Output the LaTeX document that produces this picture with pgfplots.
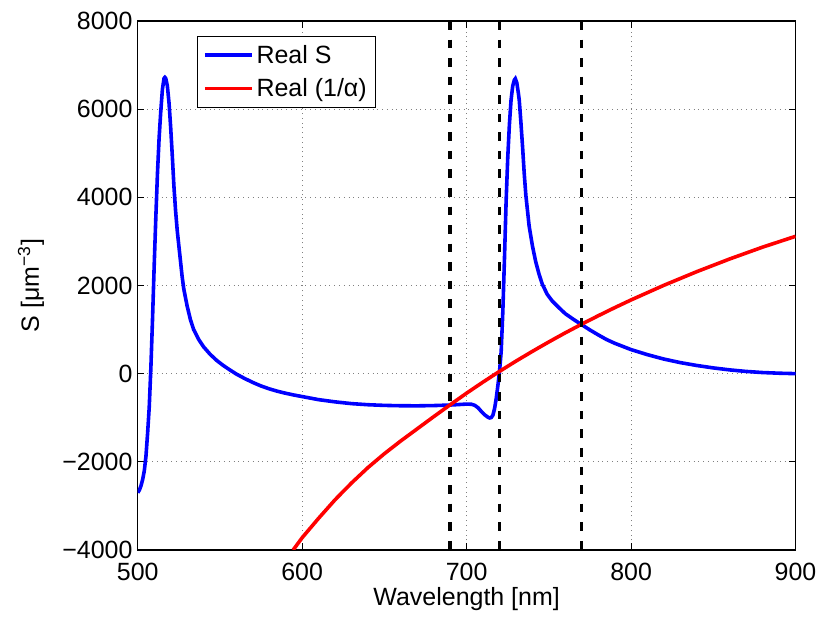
\documentclass[border=0pt]{standalone}
\usepackage{fontspec}
\setmainfont{Liberation Sans}
\usepackage{pgfplots}
\pgfplotsset{compat=1.18}

\pgfplotstableread{
x y
500 -2700
501 -2640
502 -2540
503 -2400
504 -2200
505 -1870
506 -1350
507 -750
508 150
509 1250
510 2450
511 3550
512 4550
513 5350
514 5950
515 6450
516 6700
516.5 6720
517 6700
518 6530
519 6150
520 5600
521 4950
522 4250
523 3700
524 3250
525 2900
526 2550
527 2200
528 1920
530 1540
532 1230
534 1000
537 780
540 610
544 440
548 300
552 185
556 85
560 -10
565 -110
570 -200
575 -280
580 -345
585 -400
590 -445
595 -485
600 -520
610 -590
620 -640
630 -680
640 -705
650 -720
660 -728
670 -730
680 -724
690 -712
697 -697
700 -690
703 -695
705 -720
707 -775
709 -860
711 -935
713 -990
714 -1005
715 -995
716 -940
717 -790
718 -560
719 -270
720 50
721 500
722 1400
723 2600
724 3900
725 4900
726 5650
727 6200
728 6520
729 6660
729.6 6690
730.5 6600
731.5 6350
732 6200
733 5700
734 5150
735 4550
736 4050
737 3700
738 3350
740 2900
742 2540
744 2260
746 2030
749 1800
752 1650
756 1500
760 1360
765 1230
770 1110
775 990
780 880
785 775
790 690
800 545
810 430
820 330
830 250
840 185
850 130
860 85
870 50
880 25
890 10
900 0
}\realS

\pgfplotstableread{
x y
594.5 -4000
600 -3720
610 -3280
620 -2860
630 -2480
640 -2130
650 -1815
660 -1525
670 -1250
680 -975
690 -706
700 -442
710 -190
720 52
730 284
740 506
750 720
760 926
770 1123
780 1313
790 1496
800 1672
820 2005
840 2314
860 2602
880 2870
900 3115
}\realInvAlpha

\begin{document}
\begin{tikzpicture}
\begin{axis}[
    scale only axis,
    width=329.5pt, height=265pt,
    xmin=500, xmax=900,
    ymin=-4000, ymax=8000,
    xtick={500,600,...,900},
    xticklabels={500,600,700,800,900},
    ytick={-4000,-2000,...,8000},
    yticklabels={−4000,−2000,0,2000,4000,6000,8000},
    tick align=inside,
    major tick length=3.3pt,
    tick style={black, line width=0.5pt},
    axis line style={line width=0.6pt},
    grid=major,
    major grid style={black!50, line width=0.5pt, dash pattern=on 0.5pt off 1.9pt},
    tick label style={font=\fontsize{12.5}{14}\selectfont},
    xticklabel style={yshift=-2.8pt},
    yticklabel style={xshift=0.9pt},
    label style={font=\fontsize{12.5}{14}\selectfont},
    xlabel={Wavelength [nm]},
    ylabel={S [μm\textsuperscript{−3}]},
    xlabel style={at={(axis description cs:0.5,0)}, anchor=center, yshift=-24.5pt},
    ylabel style={at={([xshift=-53.5pt]axis description cs:0,0.5)}, anchor=center},
    legend style={at={(0.0895,0.972)}, anchor=north west,
        font=\fontsize{12.5}{14}\selectfont, draw=black, line width=0.5pt,
        fill=white, inner xsep=3pt, inner ysep=1pt, row sep=0pt,
        nodes={inner xsep=1.5pt, inner ysep=2.75pt},
        cells={anchor=west}},
    legend image code/.code={\draw[#1] (0pt,0pt) -- (23.5pt,0pt);},
]
\addplot[blue, line width=1.8pt] table[x=x, y=y] {\realS};
\addplot[red, line width=1.8pt] table[x=x, y=y] {\realInvAlpha};
\addplot[black, line width=1.7pt, dash pattern=on 4.3pt off 5pt, forget plot] coordinates {(690,8000) (690,-4000)};
\addplot[black, line width=1.7pt, dash pattern=on 4.3pt off 5pt, forget plot] coordinates {(720,8000) (720,-4000)};
\addplot[black, line width=1.7pt, dash pattern=on 4.3pt off 5pt, forget plot] coordinates {(770,8000) (770,-4000)};
\legend{\strut Real S, \strut Real (1/α)\hspace{5.5pt}}
\end{axis}
\path (current axis.south west) ++(-69pt,-33pt);
\path (current axis.north east) ++(13pt,10.5pt);
\end{tikzpicture}
\end{document}
